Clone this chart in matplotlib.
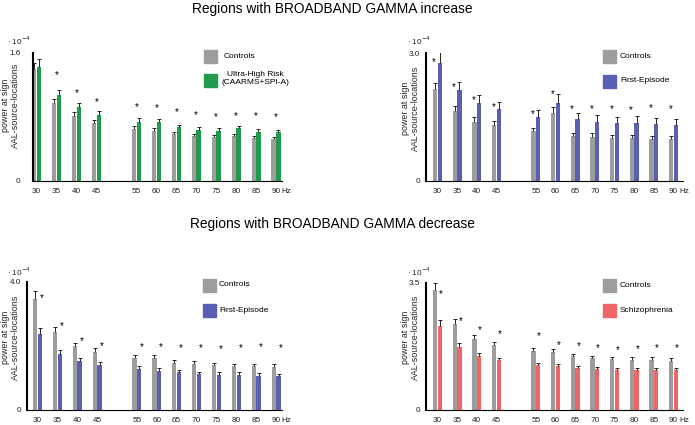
import matplotlib.pyplot as plt
from matplotlib.patches import Rectangle

plt.rcParams['font.family'] = ['Liberation Sans', 'DejaVu Sans']

freqs = [30, 35, 40, 45, 55, 60, 65, 70, 75, 80, 85, 90]

# top left: controls vs ultra-high risk
ctl_uhr = [1.396, 0.971, 0.8125, 0.717, 0.646, 0.625, 0.579, 0.558, 0.542, 0.5625, 0.529, 0.521]
ctl_uhr_err = [0.070, 0.046, 0.046, 0.041, 0.033, 0.029, 0.025, 0.030, 0.025, 0.025, 0.025, 0.025]
uhr = [1.42, 1.067, 0.921, 0.821, 0.738, 0.738, 0.667, 0.633, 0.625, 0.658, 0.6125, 0.604]
uhr_err = [0.097, 0.062, 0.046, 0.050, 0.041, 0.029, 0.029, 0.034, 0.029, 0.030, 0.030, 0.029]
uhr_stars = [None, 1.321, 1.100, 0.983, 0.917, 0.908, 0.854, 0.817, 0.792, 0.8125, 0.808, 0.800]

# top right: controls vs first episode (increase)
ctl_fe1 = [2.152, 1.649, 1.390, 1.312, 1.170, 1.602, 1.052, 1.037, 1.005, 1.005, 0.990, 0.974]
ctl_fe1_err = [0.157, 0.110, 0.102, 0.094, 0.063, 0.134, 0.071, 0.078, 0.063, 0.063, 0.062, 0.078]
fe1 = [2.780, 2.136, 1.838, 1.688, 1.508, 1.830, 1.445, 1.390, 1.351, 1.366, 1.327, 1.312]
fe1_err = [0.275, 0.196, 0.180, 0.173, 0.149, 0.204, 0.149, 0.157, 0.141, 0.150, 0.142, 0.149]
fe1_stars = [2.788, 2.207, 1.893, 1.728, 1.571, 2.034, 1.681, 1.681, 1.688, 1.665, 1.720, 1.696]

# bottom left: controls vs first episode (decrease)
ctl_fe2 = [3.460, 2.431, 1.984, 1.808, 1.621, 1.610, 1.465, 1.434, 1.403, 1.371, 1.371, 1.351]
ctl_fe2_err = [0.259, 0.146, 0.115, 0.114, 0.083, 0.094, 0.083, 0.083, 0.072, 0.073, 0.063, 0.072]
fe2 = [2.379, 1.745, 1.517, 1.403, 1.278, 1.226, 1.184, 1.122, 1.101, 1.101, 1.070, 1.060]
fe2_err = [0.187, 0.136, 0.104, 0.093, 0.083, 0.073, 0.073, 0.062, 0.073, 0.073, 0.073, 0.072]
fe2_stars = [3.481, 2.629, 2.151, 1.995, 1.974, 1.974, 1.922, 1.922, 1.901, 1.943, 1.964, 1.943]

# bottom right: controls vs schizophrenia
ctl_sz = [3.298, 2.364, 1.961, 1.787, 1.613, 1.603, 1.475, 1.429, 1.402, 1.384, 1.374, 1.356]
ctl_sz_err = [0.202, 0.128, 0.091, 0.091, 0.082, 0.083, 0.064, 0.064, 0.064, 0.064, 0.074, 0.064]
sz = [2.309, 1.741, 1.484, 1.374, 1.237, 1.209, 1.145, 1.127, 1.109, 1.109, 1.090, 1.090]
sz_err = [0.165, 0.091, 0.074, 0.064, 0.064, 0.055, 0.064, 0.064, 0.055, 0.055, 0.055, 0.055]
sz_stars = [3.188, 2.455, 2.190, 2.098, 2.034, 1.777, 1.759, 1.695, 1.640, 1.668, 1.704, 1.713]

GRAY = '#9d9d9d'
GREEN = '#1f9b4b'
BLUE = '#5b5fb3'
RED = '#ee6668'

W, H = 695, 425
fig = plt.figure(figsize=(W / 100, H / 100), dpi=100)


def px_axes(left, right, top, bottom):
    return fig.add_axes([left / W, 1 - bottom / H, (right - left) / W, (bottom - top) / H])


def panel(box, xlim, ymax, ylab, c, c_err, p, p_err, color, stars, star_dx, ypad):
    ax = px_axes(*box)
    xs_c = [f - 0.6 for f in freqs]
    xs_p = [f + 0.6 for f in freqs]
    ax.bar(xs_c, c, width=1.08, color=GRAY)
    ax.bar(xs_p, p, width=1.08, color=color)
    for xs, v, e in [(xs_c, c, c_err), (xs_p, p, p_err)]:
        _, caps, _ = ax.errorbar(xs, v, yerr=[[0] * len(e), e], fmt='none',
                                 ecolor='#222222', elinewidth=0.7, capsize=1.6, capthick=0.7)
        caps[0].set_visible(False)
    for f, s in zip(freqs, stars):
        if s is not None:
            ax.text(f + star_dx, s, '*', ha='center', va='center', fontsize=7)
    ax.set_xlim(*xlim)
    ax.set_ylim(0, ymax)
    ax.set_xticks(freqs)
    ax.set_xticklabels([str(f) for f in freqs])
    ax.set_yticks([0, ymax])
    ax.set_yticklabels(['0', ylab])
    ax.tick_params(axis='both', length=0, labelsize=5.9, colors='#222222')
    ax.tick_params(axis='x', pad=5)
    ax.tick_params(axis='y', pad=ypad)
    ax.text(91.4, -0.085, 'Hz', transform=ax.get_xaxis_transform(), fontsize=5.9,
            ha='left', va='center', color='#222222')
    for side in ['top', 'right']:
        ax.spines[side].set_visible(False)
    ax.spines['left'].set_linewidth(1.5)
    ax.spines['bottom'].set_linewidth(0.8)
    return ax


panel((32.7, 282, 52.7, 180.7), (29, 91.5), 1.6, '1.6', ctl_uhr, ctl_uhr_err, uhr, uhr_err,
      GREEN, uhr_stars, 0.0, 9)
panel((426, 683, 53.3, 180.7), (27.1, 92.4), 3.0, '3.0', ctl_fe1, ctl_fe1_err, fe1, fe1_err,
      BLUE, fe1_stars, -0.8, 4)
panel((26.7, 281.7, 281.7, 410), (27.3, 91.4), 4.0, '4.0', ctl_fe2, ctl_fe2_err, fe2, fe2_err,
      BLUE, fe2_stars, 1.1, 4)
panel((426, 683, 282.7, 410), (27.1, 92.4), 3.5, '3.5', ctl_sz, ctl_sz_err, sz, sz_err,
      RED, sz_stars, 0.85, 4)


def ftext(x, y, s, **kw):
    fig.text(x / W, 1 - y / H, s, **kw)


def fsquare(x, y, color):
    fig.add_artist(Rectangle((x / W, 1 - (y + 12.5) / H), 13 / W, 12.5 / H,
                             transform=fig.transFigure, color=color))


# titles
ftext(332, 9, 'Regions with BROADBAND GAMMA increase', ha='center', va='center', fontsize=9.9)
ftext(332, 224, 'Regions with BROADBAND GAMMA decrease', ha='center', va='center', fontsize=9.9)

# scale factors and y labels
ylabel = 'power at sign\nAAL-source-locations'
for x, y in [(7, 41), (407, 41), (7, 272), (407, 272)]:
    ftext(x, y, '· 10$^{-4}$', ha='left', va='center', fontsize=5.9, color='#222222')
for x, y in [(10.5, 105), (410.5, 108), (10.5, 337), (410.5, 337)]:
    ftext(x, y, ylabel, ha='center', va='center', rotation=90, fontsize=6.4,
          color='#222222', linespacing=1.1)

# legends
fsquare(204, 50, GRAY)
ftext(224, 56, 'Controls', ha='left', va='center', fontsize=6)
fsquare(204, 74, GREEN)
ftext(255, 78.5, 'Ultra-High Risk\n(CAARMS+SPI-A)', ha='center', va='center', fontsize=6,
      multialignment='center', linespacing=1.15)

fsquare(603, 50, GRAY)
ftext(620, 56, 'Controls', ha='left', va='center', fontsize=6)
fsquare(603, 75, BLUE)
ftext(620, 81, 'First-Episode', ha='left', va='center', fontsize=6)

fsquare(203, 279, GRAY)
ftext(219, 285, 'Controls', ha='left', va='center', fontsize=6)
fsquare(203, 304, BLUE)
ftext(219, 310, 'First-Episode', ha='left', va='center', fontsize=6)

fsquare(603, 279, GRAY)
ftext(620, 285.5, 'Controls', ha='left', va='center', fontsize=6)
fsquare(603, 304, RED)
ftext(620, 310, 'Schizophrenia', ha='left', va='center', fontsize=6)

fig.savefig('out.png', dpi=100)
